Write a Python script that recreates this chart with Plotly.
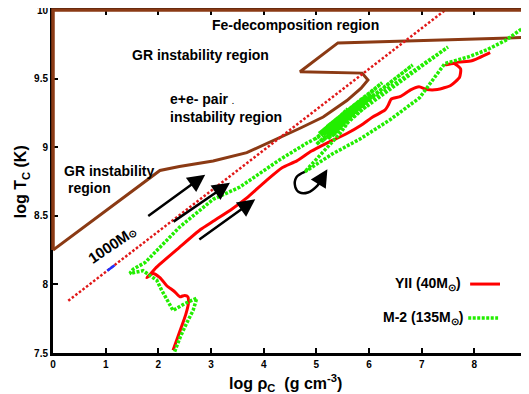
import plotly.graph_objects as go

X_RANGE = [0, 9]
Y_RANGE = [7.5, 10]
x_ticks = [0, 1, 2, 3, 4, 5, 6, 7, 8, 9]
y_ticks = [7.5, 8, 8.5, 9, 9.5, 10]
y_tick_labels = ["7.5", "8", "8.5", "9", "9.5", "10"]

# instability boundary (interior part)
boundary_rho = [0, 2.03, 2.4, 3.04, 3.68, 4.31, 4.7, 5.13, 5.58, 5.85, 5.98, 5.87, 4.69, 5.41, 7.35, 9.0]
boundary_T = [8.25, 8.83, 8.86, 8.90, 8.96, 9.07, 9.14, 9.22, 9.34, 9.43, 9.49, 9.54, 9.55, 9.76, 9.78, 9.80]

# 1000 Msun track
m1000_rho = [0.29, 7.45]
m1000_T = [7.88, 10.0]
# small blue segment on the 1000 Msun track
blue_rho = [1.03, 1.17]
blue_T = [8.10, 8.14]

# YII (40 Msun)
yii_rho = [2.28, 2.41, 2.52, 2.57, 2.56, 2.50, 2.41, 2.30, 2.16, 2.03, 1.90, 1.78, 1.86, 1.95, 2.40, 2.80,
           3.04, 3.40, 3.68, 4.06, 4.35, 4.63, 4.90, 5.20, 5.58, 5.85, 6.07, 6.30, 6.37, 6.42, 6.60,
           6.80, 6.95, 7.10, 7.30, 7.55, 7.72, 7.74, 7.62, 7.45, 7.70, 7.95, 8.30]
yii_T = [7.52, 7.66, 7.78, 7.86, 7.91, 7.92, 7.91, 7.95, 7.99, 8.05, 8.08, 8.05, 8.08, 8.12, 8.27, 8.40,
         8.46, 8.55, 8.63, 8.76, 8.85, 8.90, 8.97, 9.03, 9.10, 9.16, 9.22, 9.27, 9.31, 9.35, 9.37,
         9.42, 9.44, 9.42, 9.42, 9.45, 9.51, 9.57, 9.61, 9.60, 9.62, 9.63, 9.69]

# M-2 (135 Msun)
m2_rho = [2.31, 2.42, 2.54, 2.66, 2.73, 2.50, 2.28, 2.16, 2.06, 1.97, 1.71, 1.46, 1.52, 1.75, 2.41, 3.04,
          3.55, 4.31, 4.82,
          5.07, 5.60, 4.98, 5.90, 5.05, 6.10, 5.10, 5.80, 5.20, 6.25, 5.15, 6.83, 5.35, 6.00, 5.25,
          7.50, 5.50, 5.95, 5.30, 5.70, 5.10, 5.85, 5.22, 6.05, 5.00, 5.65, 5.12, 5.75, 5.32, 5.95,
          5.18, 5.55, 5.40, 5.60, 5.45,
          4.78, 5.30, 5.83, 6.40, 6.96, 7.44, 7.90, 8.24, 8.60, 9.00]
m2_T = [7.51, 7.62, 7.72, 7.81, 7.90, 7.86, 7.81, 7.89, 7.96, 8.03, 8.10, 8.08, 8.11, 8.16, 8.42, 8.62,
        8.71, 8.91, 9.03,
        9.08, 9.28, 9.06, 9.36, 9.10, 9.42, 9.08, 9.33, 9.15, 9.47, 9.10, 9.60, 9.15, 9.35, 9.10,
        9.73, 9.20, 9.30, 9.08, 9.25, 9.04, 9.30, 9.06, 9.38, 9.02, 9.24, 9.06, 9.27, 9.12, 9.33,
        9.10, 9.20, 9.16, 9.18, 9.10,
        8.82, 8.95, 9.06, 9.20, 9.36, 9.61, 9.66, 9.71, 9.78, 9.89]

# black arrows (tail -> head)
arrow_tail_rho = [1.78, 2.26, 2.75]
arrow_tail_T = [8.49, 8.45, 8.32]
arrow_head_rho = [2.89, 3.36, 3.84]
arrow_head_T = [8.80, 8.74, 8.62]

# curled arrow
curl_rho = [4.78, 4.62, 4.60, 4.68, 4.84, 5.02, 5.14]
curl_T = [8.82, 8.78, 8.71, 8.67, 8.67, 8.72, 8.79]
curl_head = (5.21, 8.84)

BROWN = "#8B3A14"
GREEN = "#22ee00"
RED = "#ff0000"
FONT = "Liberation Sans, Arial, sans-serif"


def px_y(v):
    return (v - Y_RANGE[0]) / (Y_RANGE[1] - Y_RANGE[0])


fig = go.Figure()

fig.add_trace(go.Scatter(x=boundary_rho, y=boundary_T, mode="lines",
                         line=dict(color=BROWN, width=3), showlegend=False))
fig.add_trace(go.Scatter(x=m1000_rho, y=m1000_T, mode="lines",
                         line=dict(color="#e01818", width=2.5, dash="2.5px,2px"), showlegend=False))
fig.add_trace(go.Scatter(x=blue_rho, y=blue_T, mode="lines",
                         line=dict(color="#2030ff", width=2.5), showlegend=False))
fig.add_trace(go.Scatter(x=yii_rho, y=yii_T, mode="lines",
                         line=dict(color=RED, width=3, shape="spline", smoothing=0.5), showlegend=False))
fig.add_trace(go.Scatter(x=m2_rho, y=m2_T, mode="lines",
                         line=dict(color=GREEN, width=3.5, dash="3px,1.5px"), showlegend=False))
fig.add_trace(go.Scatter(x=curl_rho, y=curl_T, mode="lines",
                         line=dict(color="black", width=2.5, shape="spline"), showlegend=False))

annotations = []
for tx, ty, hx, hy in zip(arrow_tail_rho, arrow_tail_T, arrow_head_rho, arrow_head_T):
    annotations.append(dict(x=hx, y=hy, ax=tx, ay=ty, xref="x", yref="y", axref="x", ayref="y",
                            text="", showarrow=True, arrowhead=2, arrowsize=1.4,
                            arrowwidth=2.5, arrowcolor="black"))
annotations.append(dict(x=curl_head[0], y=curl_head[1], ax=curl_rho[-2], ay=curl_T[-2],
                        xref="x", yref="y", axref="x", ayref="y", text="", showarrow=True,
                        arrowhead=2, arrowsize=1.4, arrowwidth=2.5, arrowcolor="black"))

tf = dict(family=FONT, size=14, color="black", weight="bold")
texts = [
    ("Fe-decomposition region", 4.61, 9.89, "center"),
    ("GR instability region", 2.81, 9.67, "center"),
    ("e+e- pair <span style='font-size:7px'>.</span>", 2.18, 9.35, "left"),
    ("instability region", 2.18, 9.22, "left"),
    ("GR instability", 0.17, 8.83, "left"),
    ("region", 0.25, 8.70, "left"),
]
for t, x, y, al in texts:
    annotations.append(dict(x=x, y=y, xref="x", yref="y", text=t, showarrow=False,
                            xanchor=al, yanchor="middle", font=tf))

annotations.append(dict(x=1.12, y=8.29, xref="x", yref="y",
                        text="1000M<span style='font-size:10px'>⊙</span>",
                        showarrow=False, textangle=-34,
                        font=dict(family=FONT, size=15, color="black", weight="bold")))

# legend
annotations.append(dict(x=0.866, y=0.201, xref="paper", yref="paper", text="YII (40M<sub>⊙</sub>)",
                        showarrow=False, xanchor="right", yanchor="middle", font=tf))
annotations.append(dict(x=0.870, y=0.102, xref="paper", yref="paper", text="M-2 (135M<sub>⊙</sub>)",
                        showarrow=False, xanchor="right", yanchor="middle", font=tf))

# axis titles
annotations.append(dict(x=0.49, y=-0.05, xref="paper", yref="paper",
                        text="log ρ<sub>C</sub>  (g cm<sup>-3</sup>)", showarrow=False,
                        xanchor="center", yanchor="top",
                        font=dict(family=FONT, size=16, color="black", weight="bold")))
annotations.append(dict(x=-0.066, y=0.5, xref="paper", yref="paper",
                        text="log T<sub>C</sub> (K)", showarrow=False, textangle=-90,
                        xanchor="center", yanchor="middle",
                        font=dict(family=FONT, size=16, color="black", weight="bold")))

shapes = [
    dict(type="line", xref="paper", yref="paper", x0=0.880, x1=0.943, y0=0.201, y1=0.201,
         line=dict(color=RED, width=3)),
    dict(type="line", xref="paper", yref="paper", x0=0.876, x1=0.939, y0=0.102, y1=0.102,
         line=dict(color=GREEN, width=3.5, dash="3px,1.5px")),
    dict(type="path", xref="paper", yref="paper", layer="above",
         path=f"M 0 {px_y(boundary_T[0])} L 0 1 L 1 1 L 1 {px_y(boundary_T[-1])}",
         line=dict(color=BROWN, width=3.5)),
]

axis_common = dict(showgrid=False, zeroline=False, showline=True, linecolor="black", linewidth=3,
                   mirror="ticks", ticks="inside", ticklen=5, tickwidth=2, tickcolor="black",
                   ticklabeloverflow="allow", automargin=False,
                   tickfont=dict(family=FONT, size=10, color="black", weight="bold"))

# page body has an 8px default margin, so the figure is sized to end at the window edge
fig.update_layout(
    width=521, height=386,
    margin=dict(l=45, r=2, t=2, b=41),
    plot_bgcolor="white", paper_bgcolor="white",
    xaxis=dict(range=X_RANGE, tickvals=x_ticks, **axis_common),
    yaxis=dict(range=Y_RANGE, tickvals=y_ticks, ticktext=y_tick_labels, **axis_common),
    annotations=annotations, shapes=shapes, showlegend=False,
)

fig.write_html("out.html")
